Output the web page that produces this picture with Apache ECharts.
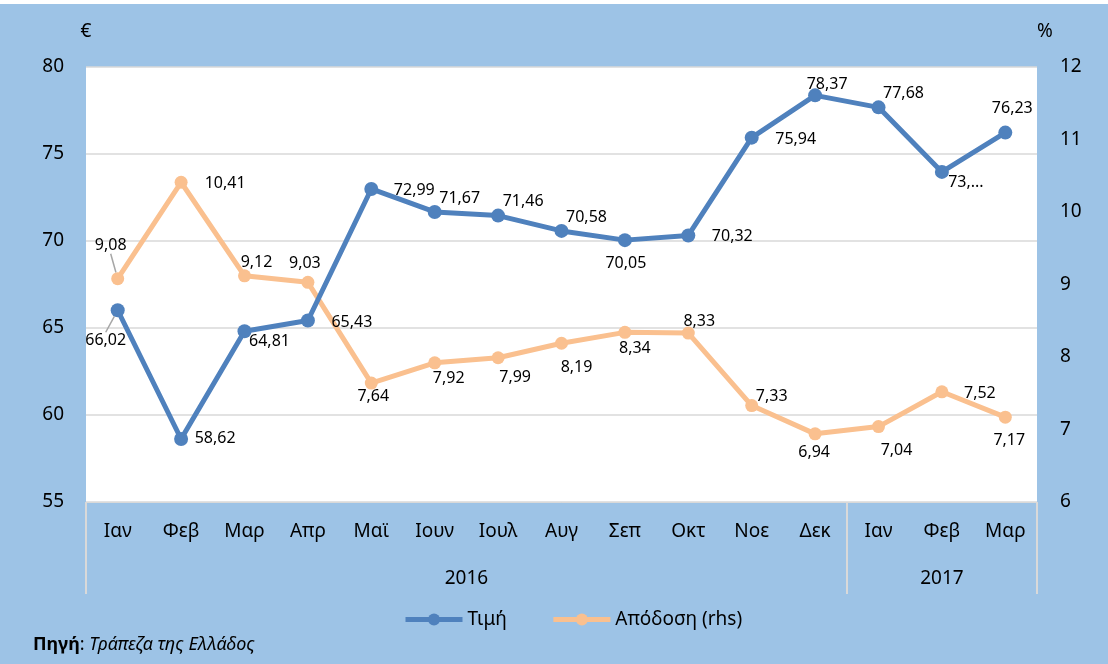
<!DOCTYPE html>
<html>
<head>
<meta charset="utf-8">
<script src="https://cdn.jsdelivr.net/npm/echarts@6/dist/echarts.min.js"></script>
<style>
  html, body { margin: 0; padding: 0; background: #fff; }
  #chart { width: 1108px; height: 664px; }
</style>
</head>
<body>
<div id="chart"></div>
<script>
// μήνες και έτη
const months = ['Ιαν', 'Φεβ', 'Μαρ', 'Απρ', 'Μαϊ', 'Ιουν', 'Ιουλ', 'Αυγ', 'Σεπ', 'Οκτ', 'Νοε', 'Δεκ', 'Ιαν', 'Φεβ', 'Μαρ']
const years = ['2016', '2017']
// Τιμή (€)
const price = [66.02, 58.62, 64.81, 65.43, 72.99, 71.67, 71.46, 70.58, 70.05, 70.32, 75.94, 78.37, 77.68, 73.97, 76.23]
// Απόδοση (%)
const yieldRhs = [9.08, 10.41, 9.12, 9.03, 7.64, 7.92, 7.99, 8.19, 8.34, 8.33, 7.33, 6.94, 7.04, 7.52, 7.17]

// label placement (dx, dy from the marker)
const priceLabelOffsets = [[-12, 30], [34, -1], [25, 10], [44, 2], [43, 1], [25, -14], [25, -14], [25, -13], [1, 23], [44, 1], [44, 2], [12, -11], [25, -14], [24, 11], [7, -24]]
const yieldLabelOffsets = [[-7, -33], [44, 1], [12, -13], [-3, -19], [2, 13], [14, 16], [17, 20], [15, 24], [10, 16], [11, -12], [20, -9], [-1, 19], [18, 24], [38, 2], [4, 23]]

const fmt = v => v.toFixed(2).replace('.', ',')
const font = 'Noto Sans'
const blue = '#4F81BD'
const orange = '#FAC08F'

const chart = echarts.init(document.getElementById('chart'))

const option = {
  backgroundColor: '#9DC3E6',
  textStyle: { fontFamily: font },
  animation: false,
  grid: {
    left: 86,
    right: 71,
    top: 67,
    bottom: 162,
    show: true,
    backgroundColor: '#fff',
    borderWidth: 0
  },
  legend: {
    left: 398,
    top: 605,
    itemWidth: 57,
    itemHeight: 15,
    itemGap: 44,
    lineStyle: { width: 5 },
    textStyle: { fontSize: 19, color: '#000', fontFamily: font },
    data: ['Τιμή', 'Απόδοση (rhs)']
  },
  xAxis: [
    {
      type: 'category',
      data: months,
      boundaryGap: true,
      axisLine: { lineStyle: { color: '#D9D9D9', width: 1 } },
      axisTick: { show: false },
      axisLabel: { margin: 20, fontSize: 19, color: '#000' }
    },
    {
      type: 'value',
      min: 0,
      max: 15,
      position: 'bottom',
      axisLine: { show: false },
      splitLine: { show: false },
      axisTick: {
        show: true,
        customValues: [0, 12, 15],
        length: 92,
        lineStyle: { color: '#D9D9D9', width: 2 }
      },
      axisLabel: {
        customValues: [6, 13.5],
        margin: 67,
        fontSize: 19,
        color: '#000',
        formatter: v => (v < 12 ? years[0] : years[1])
      }
    }
  ],
  yAxis: [
    {
      type: 'value',
      min: 55,
      max: 80,
      interval: 5,
      name: '€',
      nameGap: 26,
      nameTextStyle: { fontSize: 19, color: '#000' },
      axisLine: { show: false },
      axisTick: { show: false },
      axisLabel: { margin: 22, fontSize: 19, color: '#000' },
      splitLine: { lineStyle: { color: '#D9D9D9', width: 1.5 } }
    },
    {
      type: 'value',
      min: 6,
      max: 12,
      interval: 1,
      position: 'right',
      name: '%',
      nameGap: 26,
      nameTextStyle: { fontSize: 19, color: '#000', align: 'left' },
      axisLine: { show: false },
      axisTick: { show: false },
      axisLabel: { margin: 23, fontSize: 19, color: '#000' },
      splitLine: { show: false }
    }
  ],
  series: [
    {
      name: 'Τιμή',
      type: 'line',
      xAxisIndex: 0,
      yAxisIndex: 0,
      data: price.map((v, i) => (i === 0 ? { value: v, labelLine: { show: true } } : v)),
      symbol: 'circle',
      symbolSize: 14,
      lineStyle: { color: blue, width: 5 },
      itemStyle: { color: blue },
      z: 3,
      label: {
        show: true,
        position: 'inside',
        fontSize: 16,
        color: '#000',
        formatter: p => (p.dataIndex === 13 ? '73,...' : fmt(p.value))
      },
      labelLine: { lineStyle: { color: '#A6A6A6', width: 1.5 } },
      labelLayout: p => ({ dx: priceLabelOffsets[p.dataIndex][0], dy: priceLabelOffsets[p.dataIndex][1] })
    },
    {
      name: 'Απόδοση (rhs)',
      type: 'line',
      xAxisIndex: 0,
      yAxisIndex: 1,
      data: yieldRhs.map((v, i) => (i === 0 ? { value: v, labelLine: { show: true } } : v)),
      symbol: 'circle',
      symbolSize: 13,
      lineStyle: { color: orange, width: 5 },
      itemStyle: { color: orange },
      z: 2,
      label: {
        show: true,
        position: 'inside',
        fontSize: 16,
        color: '#000',
        formatter: p => fmt(p.value)
      },
      labelLine: { lineStyle: { color: '#A6A6A6', width: 1.5 } },
      labelLayout: p => ({ dx: yieldLabelOffsets[p.dataIndex][0], dy: yieldLabelOffsets[p.dataIndex][1] })
    }
  ],
  graphic: [
    { type: 'rect', left: 0, top: 0, shape: { width: 1108, height: 4 }, style: { fill: '#fff' } },
    {
      type: 'text',
      left: 33,
      top: 636,
      style: {
        text: '{b|Πηγή}: {i|Τράπεζα της Ελλάδος}',
        fontFamily: font,
        fontSize: 18,
        fill: '#000',
        rich: {
          b: { fontWeight: 'bold', fontSize: 18, fontFamily: font },
          i: { fontStyle: 'italic', fontSize: 18, fontFamily: font }
        }
      }
    }
  ]
}

chart.setOption(option)
</script>
</body>
</html>
